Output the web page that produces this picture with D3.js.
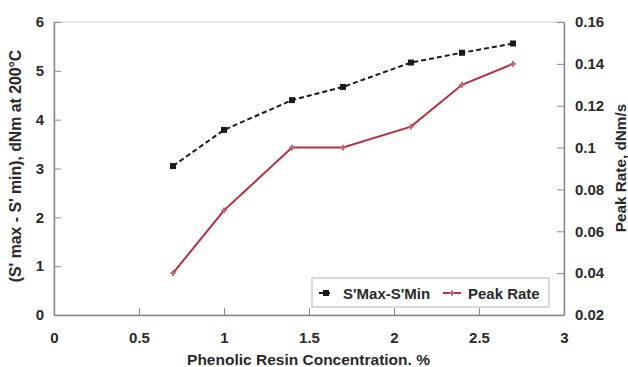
<!DOCTYPE html>
<html><head><meta charset="utf-8">
<script src="https://cdn.jsdelivr.net/npm/d3@7"></script>
<style>body{margin:0;background:#fff}</style>
</head><body><svg id="c" width="628" height="367"></svg>
<script>
const concentration = [0.7, 1.0, 1.4, 1.7, 2.1, 2.4, 2.7];
const sMaxMin = [3.05, 3.79, 4.40, 4.67, 5.17, 5.37, 5.56];
const peakRate = [0.040, 0.070, 0.100, 0.100, 0.110, 0.130, 0.140];
const xTicks = [0, 0.5, 1, 1.5, 2, 2.5, 3];
const yLeftTicks = [0, 1, 2, 3, 4, 5, 6];
const yRightTicks = [0.02, 0.04, 0.06, 0.08, 0.1, 0.12, 0.14, 0.16];
const seriesNames = ["S'Max-S'Min", "Peak Rate"];

const svg = d3.select("#c");
const L = 54, R = 564, T = 22, B = 315;
const x = d3.scaleLinear().domain([0, 3]).range([L, R]);
const yL = d3.scaleLinear().domain([0, 6]).range([B, T]);
const yR = d3.scaleLinear().domain([0.02, 0.16]).range([B, T]);
const axisCol = "#8a8a8a", textCol = "#2a2a2a";
const font = "'Liberation Sans', Arial, sans-serif";

// frame
svg.append("rect").attr("x", L).attr("y", T).attr("width", R - L).attr("height", B - T)
  .attr("fill", "none").attr("stroke", "#c8c8c8").attr("stroke-width", 1);

function styleAxis(g) {
  g.selectAll("path").attr("stroke", axisCol).attr("stroke-width", 1.5);
  g.selectAll("line").attr("stroke", axisCol).attr("stroke-width", 1);
  g.selectAll("text").attr("fill", textCol).attr("font-family", font)
    .attr("font-weight", "bold").attr("font-size", 15);
}
const gx = svg.append("g").attr("transform", `translate(0,${B})`)
  .call(d3.axisBottom(x).tickValues(xTicks).tickSize(-7).tickSizeOuter(0).tickPadding(17).tickFormat(d3.format("")));
styleAxis(gx);
const gl = svg.append("g").attr("transform", `translate(${L},0)`)
  .call(d3.axisLeft(yL).tickValues(yLeftTicks).tickSize(-7).tickSizeOuter(0).tickPadding(10).tickFormat(d3.format("d")));
styleAxis(gl);
const gr = svg.append("g").attr("transform", `translate(${R},0)`)
  .call(d3.axisRight(yR).tickValues(yRightTicks).tickSize(-7).tickSizeOuter(0).tickPadding(11).tickFormat(d => +d.toFixed(2) + ""));
styleAxis(gr);

// titles
svg.append("text").attr("x", 308.5).attr("y", 365).attr("text-anchor", "middle")
  .attr("font-family", font).attr("font-weight", "bold").attr("font-size", 15.5).attr("fill", textCol)
  .text("Phenolic Resin Concentration. %");
svg.append("text").attr("transform", `translate(21,166) rotate(-90)`).attr("text-anchor", "middle")
  .attr("font-family", font).attr("font-weight", "bold").attr("font-size", 15.8).attr("fill", textCol)
  .text("(S' max - S' min), dNm at 200°C");
svg.append("text").attr("transform", `translate(626,168) rotate(-90)`).attr("text-anchor", "middle")
  .attr("font-family", font).attr("font-weight", "bold").attr("font-size", 15.3).attr("fill", textCol)
  .text("Peak Rate, dNm/s");

const red = "#b8303f";
// S'Max-S'Min
const d1 = concentration.map((c, i) => [c, sMaxMin[i]]);
svg.append("path").datum(d1).attr("fill", "none").attr("stroke", "#1a1a1a").attr("stroke-width", 2)
  .attr("stroke-dasharray", "5,3")
  .attr("d", d3.line().x(d => x(d[0])).y(d => yL(d[1])));
svg.selectAll(".sq").data(d1).enter().append("rect")
  .attr("x", d => x(d[0]) - 3).attr("y", d => yL(d[1]) - 3).attr("width", 6).attr("height", 6).attr("fill", "#1a1a1a");
// Peak rate
const d2 = concentration.map((c, i) => [c, peakRate[i]]);
svg.append("path").datum(d2).attr("fill", "none").attr("stroke", red).attr("stroke-width", 2)
  .attr("d", d3.line().x(d => x(d[0])).y(d => yR(d[1])));
const plus = d3.symbol().type(d3.symbolCross).size(18);
svg.selectAll(".pl").data(d2).enter().append("path")
  .attr("transform", d => `translate(${x(d[0])},${yR(d[1])})`).attr("d", plus).attr("fill", "#c46470");

// legend
const lg = svg.append("g");
lg.append("rect").attr("x", 312).attr("y", 278).attr("width", 237).attr("height", 29)
  .attr("fill", "#fff").attr("stroke", "#b5b5b5").attr("stroke-width", 1);
lg.append("line").attr("x1", 319).attr("x2", 332).attr("y1", 293).attr("y2", 293)
  .attr("stroke", "#1a1a1a").attr("stroke-width", 2).attr("stroke-dasharray", "4,3");
lg.append("rect").attr("x", 326 - 3).attr("y", 293 - 3).attr("width", 6).attr("height", 6).attr("fill", "#1a1a1a");
lg.append("text").attr("x", 343).attr("y", 299).attr("font-family", font).attr("font-weight", "bold")
  .attr("font-size", 15).attr("fill", textCol).text(seriesNames[0]);
lg.append("line").attr("x1", 443).attr("x2", 461).attr("y1", 293).attr("y2", 293)
  .attr("stroke", red).attr("stroke-width", 2);
lg.append("path").attr("transform", "translate(452,293)").attr("d", plus).attr("fill", "#c46470");
lg.append("text").attr("x", 468).attr("y", 299).attr("font-family", font).attr("font-weight", "bold")
  .attr("font-size", 15).attr("fill", textCol).text(seriesNames[1]);
</script></body></html>
